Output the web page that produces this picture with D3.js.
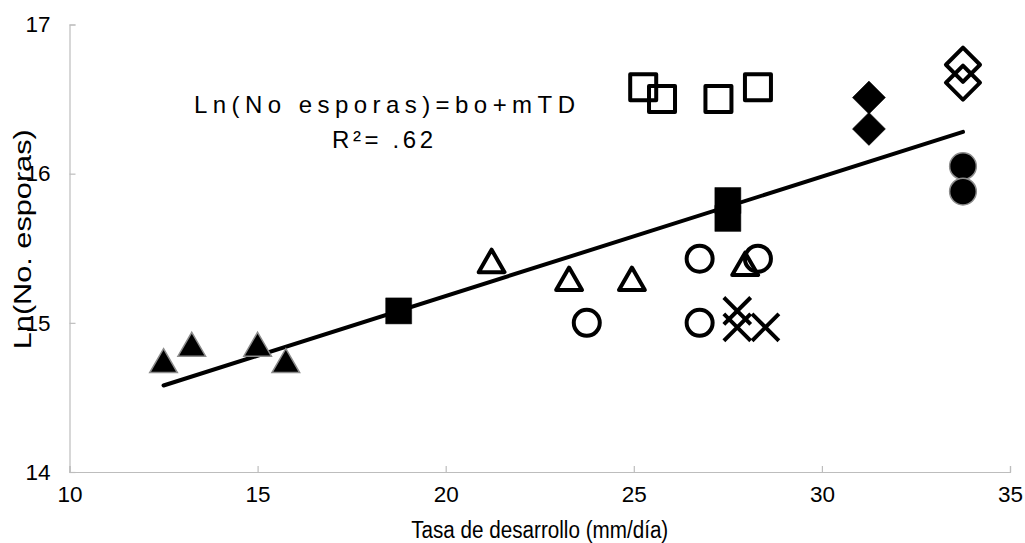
<!DOCTYPE html>
<html>
<head>
<meta charset="utf-8">
<script src="https://cdn.jsdelivr.net/npm/d3@7"></script>
<style>
  html, body { margin: 0; padding: 0; background: #fff; }
  svg { display: block; font-family: "Liberation Sans", Arial, sans-serif; }
</style>
</head>
<body>
<svg id="chart" width="1025" height="543"></svg>
<script>
// ---- data ----
const xTicks = [10, 15, 20, 25, 30, 35];
const yTicks = [14, 15, 16, 17];

const filledTriX = [12.5, 13.25, 15, 15.75];
const filledTriY = [14.72, 14.83, 14.83, 14.72];

const filledSqX = [18.75, 27.5, 27.5];
const filledSqY = [15.08, 15.82, 15.70];

const openTriX = [21.22, 23.28, 24.95, 27.96];
const openTriY = [15.39, 15.27, 15.27, 15.37];

const openCircX = [23.75, 26.75, 26.75, 28.3];
const openCircY = [15.0, 15.43, 15.0, 15.43];

const crossX = [27.75, 27.75, 28.5];
const crossY = [15.08, 14.97, 14.97];

const openSqX = [25.25, 25.75, 27.25, 28.3];
const openSqY = [16.58, 16.5, 16.5, 16.58];

const filledDiaX = [31.25, 31.25];
const filledDiaY = [16.51, 16.30];

const openDiaX = [33.75, 33.75];
const openDiaY = [16.73, 16.61];

const filledCircX = [33.75, 33.75];
const filledCircY = [16.05, 15.88];

const lineX = [12.5, 33.75];
const lineY = [14.58, 16.28];

const xTitle = "Tasa de desarrollo (mm/día)";
const yTitle = "Ln(No. esporas)";
const eqText = "Ln(No esporas)=bo+mTD";
const r2Text = "R²= .62";

// ---- chart ----
const svg = d3.select("#chart");
const x = d3.scaleLinear().domain([10, 35]).range([69.5, 1010]);
const y = d3.scaleLinear().domain([14, 17]).range([472, 24.5]);
const axisColor = "#bdbdbd";

const gx = svg.append("g").attr("transform", `translate(0,${y(14)})`)
  .call(d3.axisBottom(x).tickValues(xTicks).tickSize(-6).tickPadding(14).tickFormat(d3.format("d")));
const gy = svg.append("g").attr("transform", `translate(${x(10)},0)`)
  .call(d3.axisLeft(y).tickValues(yTicks).tickSize(-6).tickPadding(19).tickFormat(d3.format("d")));
[gx, gy].forEach(g => {
  g.select(".domain").attr("stroke", axisColor).attr("stroke-width", 1.2);
  g.selectAll(".tick line").attr("stroke", axisColor).attr("stroke-width", 1.2);
  g.selectAll(".tick text").attr("fill", "#000").style("font-size", "22.5px")
    .style("font-family", '"Liberation Sans", Arial, sans-serif');
});

// axis titles
svg.append("text").attr("x", (x(10) + x(35)) / 2).attr("y", 538)
  .attr("text-anchor", "middle").style("font-size", "23.5px")
  .attr("textLength", 257).attr("lengthAdjust", "spacingAndGlyphs").text(xTitle);
svg.append("text")
  .attr("transform", `translate(31,${(y(14) + y(17)) / 2 - 9}) rotate(-90)`)
  .attr("text-anchor", "middle").style("font-size", "23px")
  .attr("textLength", 220).attr("lengthAdjust", "spacingAndGlyphs")
  .text(yTitle);

// regression line
const lineData = lineX.map((v, i) => [v, lineY[i]]);
svg.append("path").datum(lineData)
  .attr("d", d3.line().x(d => x(d[0])).y(d => y(d[1])))
  .attr("fill", "none").attr("stroke", "#000").attr("stroke-width", 4)
  .attr("stroke-linecap", "round");

// custom X symbol
const symX = {
  draw(ctx, size) {
    const r = Math.sqrt(size) / 2;
    ctx.moveTo(-r, -r); ctx.lineTo(r, r);
    ctx.moveTo(-r, r); ctx.lineTo(r, -r);
  }
};

function drawSeries(xs, ys, type, size, opts) {
  const pts = xs.map((v, i) => [v, ys[i]]);
  svg.append("g").selectAll("path").data(pts).join("path")
    .attr("transform", d => `translate(${x(d[0])},${y(d[1])})${opts.rotate ? " rotate(45)" : ""}`)
    .attr("d", d3.symbol().type(type).size(size))
    .attr("fill", opts.fill)
    .attr("stroke", opts.stroke)
    .attr("stroke-width", opts.sw)
    .attr("stroke-linejoin", opts.join || "miter")
    .attr("stroke-linecap", opts.cap || "butt");
}

drawSeries(filledTriX, filledTriY, d3.symbolTriangle, 330, { fill: "#000", stroke: "#8c8c8c", sw: 1.5 });
drawSeries(filledSqX, filledSqY, d3.symbolSquare, 676, { fill: "#000", stroke: "#000", sw: 0.5 });
drawSeries(openTriX, openTriY, d3.symbolTriangle, 290, { fill: "none", stroke: "#000", sw: 4, join: "round" });
drawSeries(openCircX, openCircY, d3.symbolCircle, 531, { fill: "none", stroke: "#000", sw: 4 });
drawSeries(crossX, crossY, symX, 576, { fill: "none", stroke: "#000", sw: 4, cap: "square" });
drawSeries(openSqX, openSqY, d3.symbolSquare, 676, { fill: "none", stroke: "#000", sw: 4, join: "round" });
drawSeries(filledDiaX, filledDiaY, d3.symbolSquare, 544, { fill: "#000", stroke: "#000", sw: 0.5, rotate: true });
drawSeries(openDiaX, openDiaY, d3.symbolSquare, 580, { fill: "none", stroke: "#000", sw: 4, rotate: true, join: "round" });
drawSeries(filledCircX, filledCircY, d3.symbolCircle, 560, { fill: "#000", stroke: "#8c8c8c", sw: 1.5 });

// annotation
svg.append("text").attr("x", 194).attr("y", 113).style("font-size", "24px")
  .attr("textLength", 381).attr("lengthAdjust", "spacing").text(eqText);
svg.append("text").attr("x", 332).attr("y", 148).style("font-size", "24px")
  .attr("textLength", 101).attr("lengthAdjust", "spacing").text(r2Text);
</script>
</body>
</html>
